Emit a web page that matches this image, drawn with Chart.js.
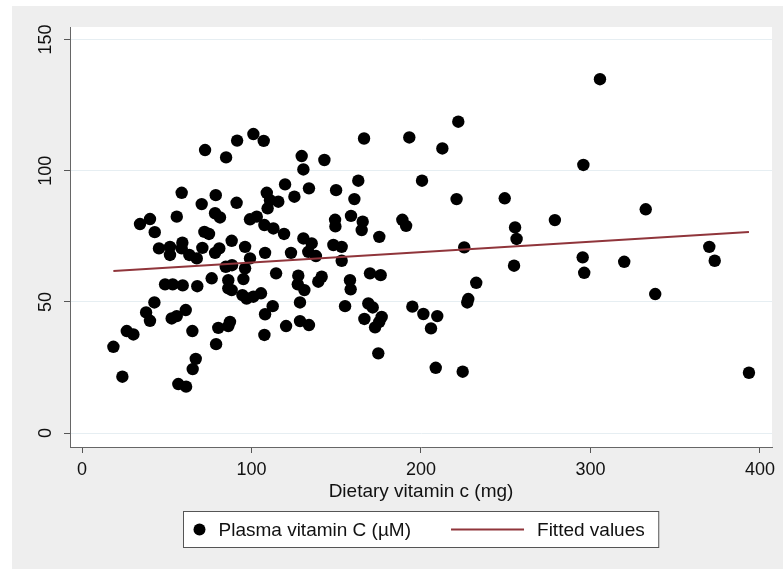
<!DOCTYPE html>
<html>
<head>
<meta charset="utf-8">
<script src="https://cdn.jsdelivr.net/npm/chart.js@4.4.1/dist/chart.umd.min.js"></script>
<style>
  html, body { margin: 0; padding: 0; background: #ffffff; }
  #box { width: 783px; height: 569px; }
</style>
</head>
<body>
<div id="box"><canvas id="vitc-chart" width="783" height="569"></canvas></div>
<script>
// dietary vitamin C intake (mg) and plasma vitamin C (uM)
var dietVitC = [18.5, 23.8, 26.4, 30.3, 34.2, 37.8, 40.1, 40.1, 42.7, 42.9, 45.4, 49, 51.9, 51.9, 52.9, 53.5, 55.9, 55.9, 56.8, 58.8,
    58.8, 59.2, 59.4, 61.2, 61.4, 63.3, 65.1, 65.3, 67.1, 67.7, 68, 70.6, 71, 72.2, 72.6, 74.9, 76.5, 78.5, 78.5, 78.9,
    79.1, 80.4, 81, 81.4, 84.8, 85, 86.3, 86.3, 86.3, 87.3, 88.3, 88.3, 88.5, 91.2, 91.5, 94.6, 95.2, 96.2, 96.2, 97.1,
    99.1, 99.1, 101.1, 101.1, 103.1, 105.6, 107.2, 107.6, 107.6, 108, 108, 109, 109.5, 110.9, 112.5, 112.9, 114.5, 115.8, 119.2, 119.8,
    120.4, 123.3, 125.3, 127.3, 127.6, 128.6, 128.6, 129.6, 130.6, 130.6, 131.2, 133.5, 133.9, 133.9, 135.5, 138, 139.4, 141.4, 143, 148.3,
    149.3, 149.5, 149.9, 153.2, 153.2, 155.2, 158.1, 158.5, 158.7, 160.7, 163, 165, 165.6, 166.4, 166.6, 168.9, 169.9, 171.5, 172.9, 174.8,
    175.4, 175.4, 176.2, 176.8, 189, 191.2, 193.1, 194.9, 200.6, 201.4, 205.9, 208.7, 209.6, 212.6, 221, 222, 224.6, 225.5, 227.3, 227.9,
    232.6, 249.4, 254.9, 255.5, 256.4, 279, 295.4, 295.8, 296.3, 305.6, 319.9, 332.6, 338.2, 370.1, 373.3, 393.5];
var plasmaVitC = [32.9, 21.5, 38.9, 37.6, 79.7, 46, 42.8, 81.6, 49.8, 76.6, 70.4, 56.7, 71, 67.9, 43.7, 56.7, 44.6, 82.5, 18.7, 91.6,
    70.4, 72.6, 56.3, 46.9, 17.7, 67.9, 38.9, 24.4, 28.3, 66.6, 56, 87.3, 70.6, 76.7, 107.9, 75.9, 59, 68.7, 83.8, 90.7,
    33.9, 40.1, 70.4, 82.2, 63.4, 105.1, 58.3, 55.2, 40.8, 42.4, 73.3, 54.5, 64, 87.8, 111.5, 52.6, 58.7, 71, 62.8, 51.3,
    66.6, 81.5, 114, 52, 82.5, 53.3, 111.4, 79.3, 37.4, 68.7, 45.3, 91.6, 85.7, 88.8, 48.4, 78, 60.9, 88.2, 75.9, 94.8,
    40.8, 68.7, 90.1, 56.7, 60, 49.8, 42.7, 105.6, 100.5, 74.2, 54.5, 69.1, 93.3, 41.2, 72.3, 67.5, 57.7, 59.6, 104.1, 71.7,
    81.3, 78.8, 92.6, 71, 65.7, 48.4, 58.3, 54.8, 82.8, 89.2, 96.2, 77.4, 80.6, 112.3, 43.5, 49.4, 60.9, 47.9, 40.3, 30.4,
    74.8, 42.4, 60.2, 44.3, 81.3, 79, 112.7, 48.2, 96.2, 45.4, 39.9, 24.9, 44.6, 108.5, 89.2, 118.7, 23.4, 70.8, 49.8, 51.1,
    57.3, 89.5, 63.8, 78.4, 74, 81.2, 67, 102.2, 61.1, 134.9, 65.3, 85.3, 53, 71, 65.7, 23];

// fitted values (linear fit), end points of the line
var fitX = [18.5, 393.5];
var fitY = [61.8, 76.7];

var xTicks = [0, 100, 200, 300, 400];
var yTicks = [0, 50, 100, 150];

var seriesNames = ['Plasma vitamin C (\u00b5M)', 'Fitted values'];
var xTitle = 'Dietary vitamin c (mg)';

var FONT = '"Liberation Sans", Arial, sans-serif';
var MAROON = '#90353b';

function toPoints(xs, ys) {
    return xs.map(function (x, i) { return {x: x, y: ys[i]}; });
}

// grey outer panel, white plot region, rotated y labels and boxed legend
var stataLook = {
    id: 'stataLook',
    beforeDraw: function (chart) {
        var ctx = chart.ctx, a = chart.chartArea;
        ctx.save();
        ctx.fillStyle = '#ffffff';
        ctx.fillRect(0, 0, chart.width, chart.height);
        ctx.fillStyle = '#eeeeee';
        ctx.fillRect(12, 6, chart.width - 12, chart.height - 6);
        ctx.fillStyle = '#ffffff';
        ctx.fillRect(a.left, a.top, a.right - a.left, a.bottom - a.top);
        ctx.restore();
    },
    afterDraw: function (chart) {
        var ctx = chart.ctx, a = chart.chartArea;
        var ys = chart.scales.y;
        ctx.save();
        ctx.font = '18px ' + FONT;
        ctx.fillStyle = '#111';
        ctx.textAlign = 'center';
        ctx.textBaseline = 'middle';
        yTicks.forEach(function (v) {
            ctx.save();
            ctx.translate(46, ys.getPixelForValue(v));
            ctx.rotate(-Math.PI / 2);
            ctx.fillText(String(v), 0, 0);
            ctx.restore();
        });

        // legend
        ctx.font = '19px ' + FONT;
        var w1 = ctx.measureText(seriesNames[0]).width;
        var w2 = ctx.measureText(seriesNames[1]).width;
        var boxW = 10 + 12 + 13 + w1 + 40 + 73 + 13 + w2 + 14;
        var boxH = 36;
        var bx = Math.round((a.left + a.right) / 2 - boxW / 2) + 0.5;
        var by = 511.5;
        var cy = by + boxH / 2;
        ctx.fillStyle = '#ffffff';
        ctx.fillRect(bx, by, boxW, boxH);
        ctx.strokeStyle = '#555';
        ctx.lineWidth = 1;
        ctx.strokeRect(bx, by, boxW, boxH);

        var x = bx + 10;
        ctx.fillStyle = '#000';
        ctx.beginPath();
        ctx.arc(x + 6, cy, 6, 0, Math.PI * 2);
        ctx.fill();
        x += 12 + 13;
        ctx.textAlign = 'left';
        ctx.fillStyle = '#111';
        ctx.fillText(seriesNames[0], x, cy + 1);
        x += w1 + 40;
        ctx.strokeStyle = MAROON;
        ctx.lineWidth = 2;
        ctx.beginPath();
        ctx.moveTo(x, cy);
        ctx.lineTo(x + 73, cy);
        ctx.stroke();
        x += 73 + 13;
        ctx.fillText(seriesNames[1], x, cy + 1);
        ctx.restore();
    }
};

window.onload = function () {
    var ctx = document.getElementById('vitc-chart');
    new Chart(ctx, {
        type: 'scatter',
        data: {
            datasets: [
                {
                    label: seriesNames[0],
                    data: toPoints(dietVitC, plasmaVitC),
                    backgroundColor: '#000',
                    borderColor: '#000',
                    borderWidth: 0,
                    pointRadius: 6.2,
                    order: 2
                },
                {
                    label: seriesNames[1],
                    type: 'line',
                    data: toPoints(fitX, fitY),
                    borderColor: MAROON,
                    borderWidth: 2,
                    pointRadius: 0,
                    fill: false,
                    order: 1
                }
            ]
        },
        options: {
            responsive: false,
            animation: false,
            events: [],
            layout: {padding: {left: 0, top: 27, right: 11, bottom: 0}},
            plugins: {legend: {display: false}, tooltip: {enabled: false}},
            scales: {
                x: {
                    type: 'linear',
                    min: -7.1,
                    max: 407.1,
                    afterBuildTicks: function (axis) {
                        axis.ticks = xTicks.map(function (v) { return {value: v}; });
                    },
                    afterFit: function (axis) { axis.height = 122; },
                    grid: {drawOnChartArea: false, drawTicks: true, tickLength: 6, tickColor: '#555'},
                    border: {color: '#666', width: 1},
                    ticks: {
                        color: '#111',
                        font: {family: FONT, size: 18},
                        padding: 6,
                        maxRotation: 0,
                        autoSkip: false
                    },
                    title: {
                        display: true,
                        text: xTitle,
                        color: '#111',
                        font: {family: FONT, size: 19},
                        padding: {top: 0, bottom: 66}
                    }
                },
                y: {
                    type: 'linear',
                    min: -5.3,
                    max: 154.8,
                    afterBuildTicks: function (axis) {
                        axis.ticks = yTicks.map(function (v) { return {value: v}; });
                    },
                    afterFit: function (axis) { axis.width = 70; },
                    grid: {color: '#e6eef2', lineWidth: 1, drawTicks: true, tickLength: 6, tickColor: '#555'},
                    border: {color: '#666', width: 1},
                    ticks: {display: false}
                }
            }
        },
        plugins: [stataLook]
    });
};
</script>
</body>
</html>
